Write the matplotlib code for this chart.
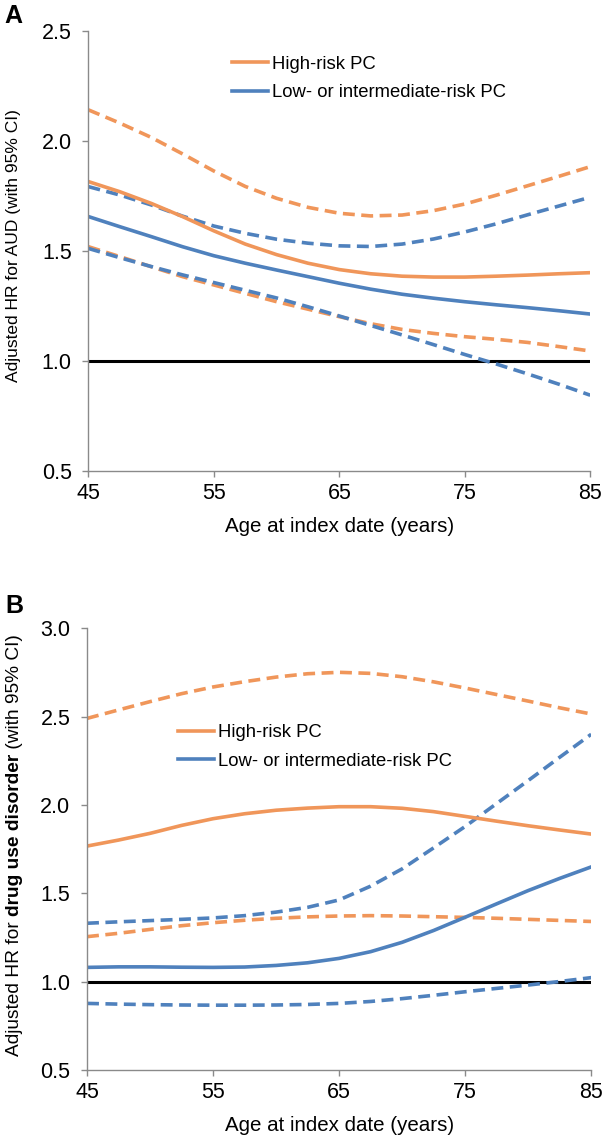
import matplotlib
matplotlib.use("Agg")
import matplotlib.pyplot as plt

plt.rcParams["font.family"] = ["Liberation Sans", "DejaVu Sans"]

# data (read every 2.5 years)
ages = [45, 47.5, 50, 52.5, 55, 57.5, 60, 62.5, 65, 67.5, 70, 72.5, 75, 77.5, 80, 82.5, 85]

# panel A: AUD
a_high = [1.814, 1.768, 1.715, 1.655, 1.590, 1.530, 1.482, 1.443, 1.414, 1.395,
          1.384, 1.380, 1.380, 1.384, 1.389, 1.395, 1.400]
a_high_upper = [2.140, 2.080, 2.015, 1.940, 1.862, 1.792, 1.738, 1.697, 1.670, 1.658,
                1.662, 1.682, 1.712, 1.752, 1.795, 1.838, 1.882]
a_high_lower = [1.518, 1.473, 1.427, 1.382, 1.344, 1.306, 1.268, 1.234, 1.200, 1.168,
                1.142, 1.124, 1.109, 1.097, 1.083, 1.064, 1.044]
a_low = [1.655, 1.609, 1.564, 1.518, 1.477, 1.443, 1.412, 1.382, 1.352, 1.325,
         1.302, 1.284, 1.268, 1.254, 1.241, 1.227, 1.212]
a_low_upper = [1.791, 1.753, 1.708, 1.657, 1.612, 1.579, 1.552, 1.534, 1.522, 1.519,
               1.530, 1.553, 1.585, 1.622, 1.663, 1.703, 1.743]
a_low_lower = [1.510, 1.468, 1.428, 1.390, 1.355, 1.320, 1.285, 1.245, 1.203, 1.160,
               1.117, 1.073, 1.028, 0.985, 0.940, 0.893, 0.843]

# panel B: drug use disorder
b_high = [1.767, 1.801, 1.839, 1.884, 1.922, 1.950, 1.970, 1.982, 1.990, 1.990,
          1.981, 1.962, 1.935, 1.908, 1.882, 1.858, 1.835]
b_high_upper = [2.490, 2.538, 2.585, 2.630, 2.668, 2.698, 2.724, 2.743, 2.751, 2.745,
                2.726, 2.697, 2.662, 2.625, 2.588, 2.550, 2.515]
b_high_lower = [1.254, 1.273, 1.295, 1.316, 1.333, 1.347, 1.358, 1.366, 1.371, 1.373,
                1.371, 1.367, 1.363, 1.358, 1.352, 1.346, 1.340]
b_low = [1.080, 1.083, 1.083, 1.081, 1.080, 1.082, 1.091, 1.106, 1.131, 1.169,
         1.222, 1.289, 1.364, 1.440, 1.515, 1.584, 1.649]
b_low_upper = [1.330, 1.338, 1.345, 1.352, 1.360, 1.373, 1.393, 1.420, 1.462, 1.540,
               1.638, 1.757, 1.878, 2.008, 2.138, 2.270, 2.400]
b_low_lower = [0.876, 0.872, 0.869, 0.867, 0.866, 0.866, 0.867, 0.870, 0.876, 0.887,
               0.903, 0.922, 0.942, 0.961, 0.980, 1.000, 1.022]

labels = ["High-risk PC", "Low- or intermediate-risk PC"]
xticks = [45, 55, 65, 75, 85]

orange = "#F0965A"
blue = "#4F81BD"
axis_grey = "#8A8A8A"

fig = plt.figure(figsize=(6.06, 11.41), dpi=100)
axA = fig.add_axes([0.146, 0.5875, 0.828, 0.3856])
axB = fig.add_axes([0.1436, 0.0624, 0.832, 0.3869])


def draw_panel(ax, high, hu, hl, low, lu, ll, yticks, legend_pos):
    ax.axhline(1.0, color="black", lw=2.2, zorder=1)
    dash = (0, (3.3, 1.8))
    ax.plot(ages, hu, color=orange, lw=2.6, ls=dash)
    ax.plot(ages, hl, color=orange, lw=2.6, ls=dash)
    ax.plot(ages, lu, color=blue, lw=2.6, ls=dash)
    ax.plot(ages, ll, color=blue, lw=2.6, ls=dash)
    l1, = ax.plot(ages, high, color=orange, lw=2.6)
    l2, = ax.plot(ages, low, color=blue, lw=2.6)
    ax.set_xlim(45, 85)
    ax.set_ylim(yticks[0], yticks[-1])
    ax.set_xticks(xticks)
    ax.set_yticks(yticks)
    ax.set_yticklabels([f"{v:.1f}" for v in yticks])
    for s in ["top", "right"]:
        ax.spines[s].set_visible(False)
    for s in ["left", "bottom"]:
        ax.spines[s].set_color(axis_grey)
        ax.spines[s].set_linewidth(1)
    ax.tick_params(axis="both", labelsize=15.5, color=axis_grey, length=4, width=1)
    ax.tick_params(axis="x", pad=5)
    ax.tick_params(axis="y", pad=8)
    ax.set_xlabel("Age at index date (years)", fontsize=14.8, labelpad=9)
    ax.legend([l1, l2], labels, loc="center left", bbox_to_anchor=legend_pos,
              frameon=False, fontsize=13.3, handlelength=1.95, handletextpad=0.2,
              labelspacing=0.62, borderaxespad=0, borderpad=0)


draw_panel(axA, a_high, a_high_upper, a_high_lower, a_low, a_low_upper,
           a_low_lower, [0.5, 1.0, 1.5, 2.0, 2.5], (0.286, 0.891))
draw_panel(axB, b_high, b_high_upper, b_high_lower, b_low, b_low_upper,
           b_low_lower, [0.5, 1.0, 1.5, 2.0, 2.5, 3.0], (0.1806, 0.731))

fig.text(14 / 606, 1 - 245.5 / 1141, "Adjusted HR for AUD (with 95% CI)",
         rotation=90, fontsize=12.5, ha="center", va="center")

# panel B y label with bold middle part
fig.canvas.draw()
renderer = fig.canvas.get_renderer()
parts = [("Adjusted HR for ", "normal"), ("drug use disorder", "bold"),
         (" (with 95% CI)", "normal")]
texts = []
for s, w in parts:
    t = fig.text(0, 0, s, rotation=90, fontsize=13.8, fontweight=w,
                 ha="center", va="bottom")
    texts.append(t)
heights = [t.get_window_extent(renderer).height for t in texts]
total = sum(heights)
figh = fig.get_figheight() * fig.dpi
y0 = 1 - 845 / 1141 - total / 2 / figh
for t, h in zip(texts, heights):
    t.set_position((14.5 / 606, y0))
    y0 += h / figh

fig.text(4 / 606, 1 - 23 / 1141, "A", fontsize=18, fontweight="bold", va="baseline")
fig.text(5 / 606, 1 - 613 / 1141, "B", fontsize=18, fontweight="bold", va="baseline")

fig.savefig("out.png", dpi=100)
